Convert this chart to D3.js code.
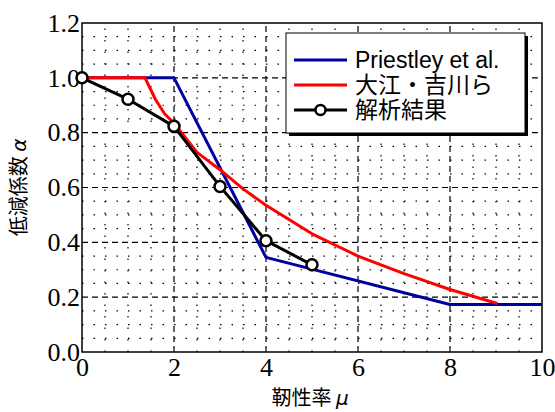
<!DOCTYPE html>
<html>
<head>
<meta charset="utf-8">
<script src="https://cdn.jsdelivr.net/npm/d3@7"></script>
<style>
  body { margin: 0; background: #fff; }
  svg { display: block; }
  .tick text { font-family: "Liberation Serif", "Times New Roman", serif !important; }
</style>
</head>
<body>
<svg id="chart" width="555" height="412"></svg>
<script>
// values
const priestleyMu = [0, 2, 4, 8, 10]
const priestleyAlpha = [1.0, 1.0, 0.345, 0.173, 0.173]

const oeMu = [0, 1.37, 1.6, 1.8, 2, 2.5, 3, 3.5, 4, 5, 6, 7, 8, 9.03]
const oeAlpha = [1.0, 1.0, 0.92, 0.868, 0.835, 0.728, 0.665, 0.595, 0.535, 0.431, 0.35, 0.286, 0.228, 0.177]

const analysisMu = [0, 1, 2, 3, 4, 5]
const analysisAlpha = [1.0, 0.922, 0.823, 0.604, 0.406, 0.318]

const xTicks = [0, 2, 4, 6, 8, 10]
const yTicks = [0, 0.2, 0.4, 0.6, 0.8, 1.0, 1.2]

const legendNames = ['Priestley et al.', '大江・吉川ら', '解析結果']
const seriesColors = ['#0000a0', '#ff0000', '#000000']

const svg = d3.select('#chart')
const m = {l: 82, r: 13, t: 23, b: 60}
const W = 555, H = 412
const x = d3.scaleLinear().domain([0, 10]).range([m.l, W - m.r])
const y = d3.scaleLinear().domain([0, 1.2]).range([H - m.b, m.t])

const serif = '"Liberation Serif", "Times New Roman", serif'
const cjk = '"Noto Sans CJK JP", sans-serif'

// minor grid
let grid = svg.append('g')
d3.range(0.5, 10, 0.5).filter(v => v % 2 != 0).forEach(v => {
  grid.append('line')
    .attr('x1', x(v)).attr('x2', x(v))
    .attr('y1', y(0)).attr('y2', y(1.2))
    .attr('stroke', '#000').attr('stroke-width', 1.2)
    .attr('stroke-dasharray', '1.5,10')
})
d3.range(0.05, 1.2, 0.05).filter(v => Math.abs(v / 0.2 - Math.round(v / 0.2)) > 0.01).forEach(v => {
  grid.append('line')
    .attr('x1', x(0)).attr('x2', x(10))
    .attr('y1', y(v)).attr('y2', y(v))
    .attr('stroke', '#000').attr('stroke-width', 1.2)
    .attr('stroke-dasharray', '1.5,10')
})
// major grid
xTicks.slice(1, -1).forEach(v => {
  grid.append('line')
    .attr('x1', x(v)).attr('x2', x(v))
    .attr('y1', y(0)).attr('y2', y(1.2))
    .attr('stroke', '#000').attr('stroke-width', 1.2)
    .attr('stroke-dasharray', '6,4')
})
yTicks.slice(1, -1).forEach(v => {
  grid.append('line')
    .attr('x1', x(0)).attr('x2', x(10))
    .attr('y1', y(v)).attr('y2', y(v))
    .attr('stroke', '#000').attr('stroke-width', 1.2)
    .attr('stroke-dasharray', '6,4')
})

// frame
svg.append('rect')
  .attr('x', x(0)).attr('y', y(1.2))
  .attr('width', x(10) - x(0)).attr('height', y(0) - y(1.2))
  .attr('fill', 'none').attr('stroke', '#000').attr('stroke-width', 1.5)

// axes
let xAxis = svg.append('g')
  .attr('transform', `translate(0,${y(0)})`)
  .call(d3.axisBottom(x).tickValues(xTicks).tickSize(0).tickPadding(6).tickFormat(d3.format('d')))
let yAxis = svg.append('g')
  .attr('transform', `translate(${x(0)},0)`)
  .call(d3.axisLeft(y).tickValues(yTicks).tickSize(0).tickPadding(2).tickFormat(d3.format('.1f')))
;[xAxis, yAxis].forEach(a => {
  a.select('.domain').remove()
  a.attr('font-family', serif).attr('font-size', 26)
  a.selectAll('text').style('font-family', serif).style('font-size', '26px').attr('fill', '#000')
})

// series
const line = d3.line().x(d => x(d[0])).y(d => y(d[1]))
const series = [
  d3.zip(priestleyMu, priestleyAlpha),
  d3.zip(oeMu, oeAlpha),
  d3.zip(analysisMu, analysisAlpha)
]
series.forEach((s, i) => {
  svg.append('path')
    .datum(s)
    .attr('d', line)
    .attr('fill', 'none')
    .attr('stroke', seriesColors[i])
    .attr('stroke-width', 3)
    .attr('stroke-linejoin', 'round')
})
svg.append('g').selectAll('circle')
  .data(series[2])
  .join('circle')
  .attr('cx', d => x(d[0])).attr('cy', d => y(d[1]))
  .attr('r', 5.5)
  .attr('fill', '#fff').attr('stroke', '#000').attr('stroke-width', 2.5)

// legend
let lg = svg.append('g')
lg.append('rect').attr('x', 289).attr('y', 36).attr('width', 239).attr('height', 100).attr('fill', '#000')
lg.append('rect').attr('x', 286).attr('y', 33).attr('width', 239).attr('height', 100)
  .attr('fill', '#fff').attr('stroke', '#000').attr('stroke-width', 1)
legendNames.forEach((n, i) => {
  let cy = 60 + i * 25
  lg.append('line')
    .attr('x1', 294).attr('x2', 347).attr('y1', cy).attr('y2', cy)
    .attr('stroke', seriesColors[i]).attr('stroke-width', 3)
  if (i == 2) {
    lg.append('circle').attr('cx', 320.5).attr('cy', cy).attr('r', 5)
      .attr('fill', '#fff').attr('stroke', '#000').attr('stroke-width', 2.5)
  }
  lg.append('text')
    .attr('x', 355).attr('y', cy)
    .attr('dy', '0.36em')
    .attr('font-family', i == 0 ? '"Liberation Sans", Arial, sans-serif' : cjk)
    .attr('font-size', i == 0 ? 23 : 23)
    .text(n)
})

// axis titles
svg.append('text')
  .attr('x', 310).attr('y', 405)
  .attr('text-anchor', 'middle')
  .attr('font-family', cjk).attr('font-size', 20)
  .call(t => {
    t.append('tspan').text('靭性率 ')
    t.append('tspan').attr('font-style', 'italic').attr('font-family', '"DejaVu Sans", sans-serif').text('μ')
  })
svg.append('text')
  .attr('transform', `translate(26,${(y(0) + y(1.2)) / 2}) rotate(-90)`)
  .attr('text-anchor', 'middle')
  .attr('font-family', cjk).attr('font-size', 20)
  .call(t => {
    t.append('tspan').text('低減係数 ')
    t.append('tspan').attr('font-style', 'italic').attr('font-family', '"DejaVu Sans", sans-serif').text('α')
  })
</script>
</body>
</html>
